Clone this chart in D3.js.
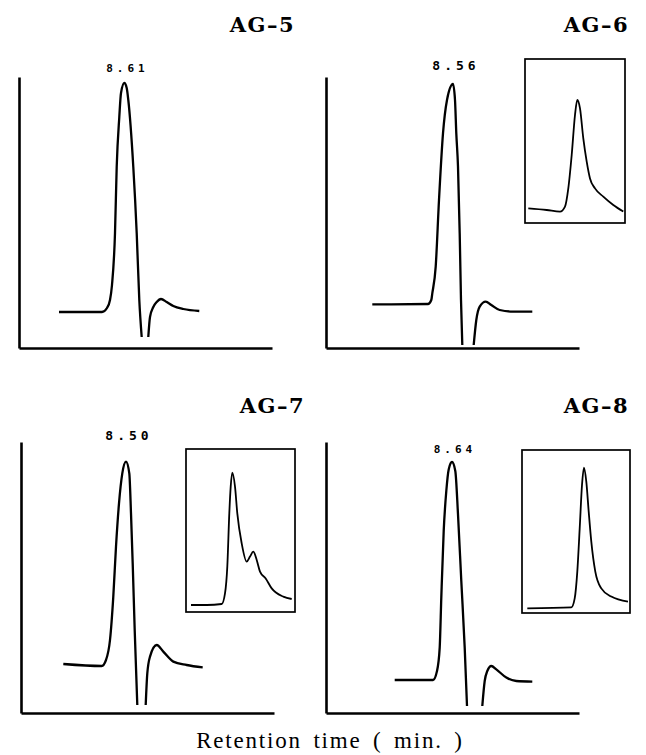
<!DOCTYPE html>
<html>
<head>
<meta charset="utf-8">
<script src="https://cdn.jsdelivr.net/npm/d3@7"></script>
<style>
  body { margin: 0; background: #fff; }
  svg { display: block; }
</style>
</head>
<body>
<svg width="646" height="755"></svg>
<script>
// chromatograms: retention time (min) vs detector signal (arbitrary units)

var sampleNames = ["AG-5", "AG-6", "AG-7", "AG-8"];
var peakTimes = [8.61, 8.56, 8.50, 8.64];

// main traces, null = pen leaves the chart (negative dip)
var ag5Trace = [[7.30, 18], [8.16, 18], [8.26, 20], [8.32, 24], [8.36, 31.5], [8.42, 57.5], [8.454, 90.5],
  [8.506, 115.5], [8.54, 127.5], [8.606, 132.5], [8.654, 130], [8.686, 124], [8.786, 90.5], [8.854, 57.5],
  [8.906, 24], [8.954, 5.5], null,
  [9.086, 5.5], [9.12, 15.5], [9.186, 20.5], [9.254, 23], [9.34, 24.5], [9.454, 23], [9.586, 21], [9.786, 19.5], [10.106, 18.5]];
var ag6Trace = [[6.946, 21.8], [8.06, 22], [8.126, 24], [8.146, 27.3], [8.214, 40.7], [8.28, 74], [8.36, 107.3],
  [8.44, 124], [8.56, 132], [8.60, 124], [8.626, 107.3], [8.66, 90.7], [8.694, 57.3], [8.72, 24], [8.746, 1.5], null,
  [8.974, 1.5], [9.026, 14], [9.094, 20.7], [9.214, 23.2], [9.326, 21.5], [9.494, 19], [9.76, 18.2], [10.146, 18.2]];
var ag7Trace = [[7.246, 24.5], [8.014, 23.5], [8.10, 26.5], [8.18, 36.5], [8.246, 58.2], [8.30, 83.2], [8.36, 104.8],
  [8.426, 119.8], [8.50, 125.7], [8.566, 119.8], [8.60, 99.8], [8.634, 74.8], [8.674, 41.5], [8.726, 4], null,
  [8.894, 4], [8.926, 19.8], [8.98, 28.2], [9.114, 34], [9.246, 30.7], [9.446, 25.7], [9.714, 24], [10.034, 22.8]];
var ag8Trace = [[7.494, 16.5], [8.26, 16.5], [8.34, 21], [8.394, 32.7], [8.426, 57.7], [8.474, 91], [8.526, 111],
  [8.574, 121.8], [8.64, 125.5], [8.706, 121], [8.76, 99.3], [8.826, 66], [8.894, 32.7], [8.94, 3.5], null,
  [9.246, 3.5], [9.294, 16], [9.346, 21], [9.426, 23.5], [9.526, 21.8], [9.726, 17.7], [9.926, 16], [10.246, 15.7]];

// expanded insets (AG-5 has none)
var ag6Inset = [[7.586, 7.3], [7.954, 6.5], [8.22, 5.7], [8.32, 8.2], [8.386, 17.3], [8.454, 34], [8.52, 54],
  [8.566, 61.5], [8.62, 57.3], [8.686, 42.3], [8.754, 30.7], [8.82, 22.3], [8.92, 17.3], [9.086, 13.2],
  [9.286, 9], [9.486, 5.7]];
var ag7Inset = [[7.68, 3.5], [7.994, 3.5], [8.294, 4], [8.36, 9.3], [8.406, 22.7], [8.446, 49.3], [8.474, 62.7],
  [8.506, 69.7], [8.56, 62.7], [8.606, 49.3], [8.694, 34.3], [8.794, 25.2], [8.86, 27.7], [8.926, 30.2],
  [8.994, 26], [9.06, 20.2], [9.174, 16.8], [9.294, 11.8], [9.526, 7.7], [9.694, 6.5]];
var ag8Inset = [[7.506, 2.3], [8.386, 2.8], [8.454, 7.3], [8.506, 20.7], [8.554, 42.3], [8.60, 64], [8.64, 72.7],
  [8.686, 65.7], [8.734, 50.7], [8.786, 35.7], [8.866, 20.7], [8.986, 12.3], [9.186, 8.2], [9.52, 5.7]];

var traces = [ag5Trace, ag6Trace, ag7Trace, ag8Trace];
var insets = [null, ag6Inset, ag7Inset, ag8Inset];

// time windows shown on each recorder trace
var mainWindows = [[6.50, 11.56], [6.02, 11.08], [6.40, 11.46], [6.12, 11.18]];
var insetWindows = [null, [7.52, 9.52], [7.58, 9.76], [7.40, 9.56]];

var svg = d3.select("svg");
var plotW = 253, plotH = 271;

// layout of the four panels
var panels = [
  { x: 19, y: 77, titleX: 295, titleY: 32, labelY: -5, labelSize: 11, box: null },
  { x: 326, y: 77, titleX: 629, titleY: 32, labelY: -7, labelSize: 13, box: { x: 199, y: -18, w: 100, h: 164 } },
  { x: 21, y: 442, titleX: 305, titleY: 413, labelY: -2, labelSize: 13, box: { x: 165, y: 7, w: 109, h: 163 } },
  { x: 326, y: 442, titleX: 629, titleY: 413, labelY: 11, labelSize: 11, box: { x: 196, y: 8, w: 108, h: 163 } }
];

panels.forEach(function (p, i) {
  var g = svg.append("g").attr("transform", "translate(" + p.x + "," + p.y + ")");

  var x = d3.scaleLinear().domain(mainWindows[i]).range([0, plotW]);
  var y = d3.scaleLinear().domain([0, 135.5]).range([plotH, 0]);

  var line = d3.line()
    .defined(function (d) { return d != null; })
    .x(function (d) { return x(d[0]); })
    .y(function (d) { return y(d[1]); })
    .curve(d3.curveMonotoneX);

  g.append("path")
    .datum(traces[i])
    .attr("d", line)
    .attr("fill", "none")
    .attr("stroke", "#000")
    .attr("stroke-width", 2.3)
    .attr("stroke-linejoin", "round");

  g.append("g")
    .attr("transform", "translate(0," + plotH + ")")
    .call(d3.axisBottom(x).ticks(0).tickSizeOuter(0))
    .call(function (a) { a.select(".domain").attr("stroke-width", 2.6); });

  g.append("g")
    .call(d3.axisLeft(y).ticks(0).tickSizeOuter(0))
    .call(function (a) { a.select(".domain").attr("stroke-width", 2.6); });

  g.append("text")
    .attr("x", x(peakTimes[i]) + 3)
    .attr("y", p.labelY)
    .attr("text-anchor", "middle")
    .attr("font-family", "DejaVu Sans Mono")
    .attr("font-weight", "bold")
    .attr("font-size", p.labelSize)
    .attr("letter-spacing", 4)
    .text(peakTimes[i].toFixed(2));

  svg.append("text")
    .attr("x", p.titleX)
    .attr("y", p.titleY)
    .attr("text-anchor", "end")
    .attr("font-family", "DejaVu Serif")
    .attr("font-weight", "bold")
    .attr("font-size", 21)
    .attr("letter-spacing", 1.5)
    .text(sampleNames[i].replace("-", "\u2013"));

  if (p.box) {
    var b = g.append("g").attr("transform", "translate(" + p.box.x + "," + p.box.y + ")");
    var ix = d3.scaleLinear().domain(insetWindows[i]).range([0, p.box.w]);
    var iy = d3.scaleLinear().domain([0, p.box.h / 2]).range([p.box.h, 0]);

    b.append("rect")
      .attr("width", p.box.w)
      .attr("height", p.box.h)
      .attr("fill", "none")
      .attr("stroke", "#000")
      .attr("stroke-width", 1.7);

    b.append("path")
      .datum(insets[i])
      .attr("d", d3.line()
        .x(function (d) { return ix(d[0]); })
        .y(function (d) { return iy(d[1]); })
        .curve(d3.curveMonotoneX))
      .attr("fill", "none")
      .attr("stroke", "#000")
      .attr("stroke-width", 1.8);
  }
});

svg.append("text")
  .attr("x", 330)
  .attr("y", 748)
  .attr("text-anchor", "middle")
  .attr("font-family", "Liberation Serif")
  .attr("font-size", 23)
  .attr("letter-spacing", 1.8)
  .attr("word-spacing", 4)
  .text("Retention time ( min. )");
</script>
</body>
</html>
